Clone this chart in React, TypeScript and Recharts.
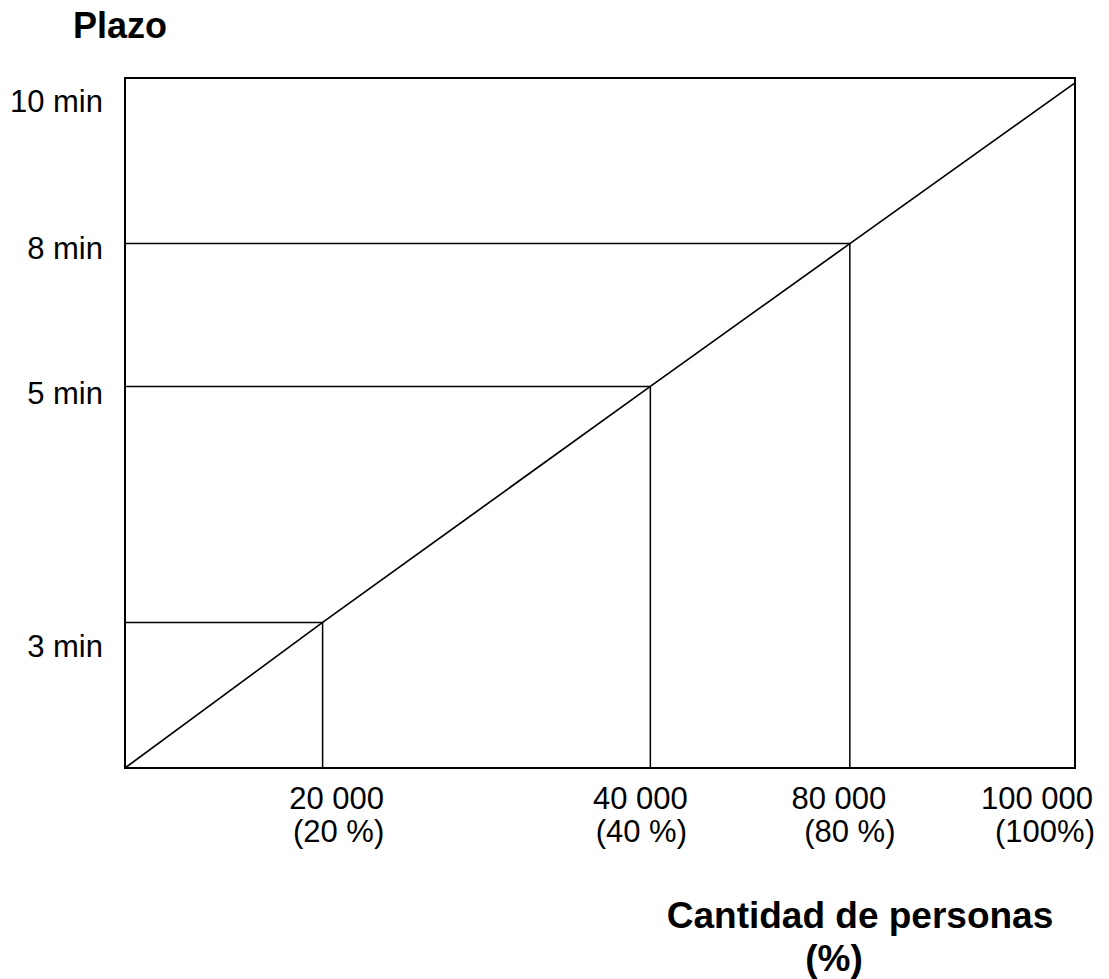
import { LineChart, Line, XAxis, YAxis, ReferenceLine, ReferenceArea } from "recharts";

/* etiquetas del eje de personas */
const personas = ["20 000", "40 000", "80 000", "100 000"];
const porcentajes = ["(20 %)", "(40 %)", "(80 %)", "(100%)"];
/* etiquetas del eje de plazo */
const plazos = ["3 min", "5 min", "8 min", "10 min"];

/* posición de cada punto sobre la escala (esquemática) del dibujo, 0-100 */
const posPersonas = [20.8, 55.3, 76.3, 100];
const posPlazo = [21.1, 55.3, 76.0, 99.3];

const puntos = [{ x: 0, y: 0 }].concat(
  posPersonas.map((x, i) => ({ x, y: posPlazo[i] }))
);

const FONT = '"Liberation Sans", Arial, sans-serif';

/* ajustes de las etiquetas (px) */
const dxPersonas = [14, -10, -11, -38];
const dxPorcentajes = [16, -9, 0, -30];
const dyPlazo = [35, 18, 15, 29];

function TickPersonas(props: any) {
  const { x, y, payload } = props;
  const i = posPersonas.indexOf(payload.value);
  if (i < 0) return null;
  return (
    <g>
      <text x={x + dxPersonas[i]} y={y + 41} textAnchor="middle" fontFamily={FONT} fontSize={31} fill="#000">
        {personas[i]}
      </text>
      <text x={x + dxPorcentajes[i]} y={y + 74} textAnchor="middle" fontFamily={FONT} fontSize={31} fill="#000">
        {porcentajes[i]}
      </text>
    </g>
  );
}

function TickPlazo(props: any) {
  const { x, y, payload } = props;
  const i = posPlazo.indexOf(payload.value);
  if (i < 0) return null;
  return (
    <text x={x - 22} y={y + dyPlazo[i]} textAnchor="end" fontFamily={FONT} fontSize={31} fill="#000">
      {plazos[i]}
    </text>
  );
}

export default function App() {
  return (
    <div style={{ position: "absolute", left: 0, top: 0, background: "#fff" }}>
      <LineChart
        width={1109}
        height={979}
        data={puntos}
        margin={{ top: 78, right: 34, bottom: 111, left: 0 }}
      >
        <XAxis
          type="number"
          dataKey="x"
          domain={[0, 100]}
          ticks={posPersonas}
          tick={<TickPersonas />}
          tickLine={false}
          axisLine={false}
          tickSize={0}
          tickMargin={0}
          height={100}
          interval={0}
          label={{
            content: (p: any) => {
              const vb = p.viewBox;
              return (
                <g fontFamily={FONT} fontWeight="bold" fontSize={37} fill="#000">
                  <text x={vb.x + 735} y={vb.y + 160} textAnchor="middle">Cantidad de personas</text>
                  <text x={vb.x + 709} y={vb.y + 203} textAnchor="middle">(%)</text>
                </g>
              );
            },
          }}
        />
        <YAxis
          type="number"
          domain={[0, 100]}
          ticks={posPlazo}
          tick={<TickPlazo />}
          tickLine={false}
          axisLine={false}
          tickSize={0}
          tickMargin={0}
          width={125}
          interval={0}
          label={{
            content: (p: any) => {
              const vb = p.viewBox;
              return (
                <text x={vb.x + 73} y={vb.y - 40} fontFamily={FONT} fontWeight="bold" fontSize={36} fill="#000">
                  Plazo
                </text>
              );
            },
          }}
        />
        <ReferenceArea x1={0} x2={100} y1={0} y2={100} fill="none" stroke="#000" strokeWidth={2} fillOpacity={0} />
        {posPersonas.slice(0, 3).map((px, i) => (
          <ReferenceLine
            key={"h" + i}
            segment={[{ x: 0, y: posPlazo[i] }, { x: px, y: posPlazo[i] }]}
            stroke="#000"
            strokeWidth={1.5}
          />
        ))}
        {posPersonas.slice(0, 3).map((px, i) => (
          <ReferenceLine
            key={"v" + i}
            segment={[{ x: px, y: 0 }, { x: px, y: posPlazo[i] }]}
            stroke="#000"
            strokeWidth={1.5}
          />
        ))}
        <Line
          type="linear"
          dataKey="y"
          stroke="#000"
          strokeWidth={1.7}
          dot={false}
          isAnimationActive={false}
        />
      </LineChart>
    </div>
  );
}
